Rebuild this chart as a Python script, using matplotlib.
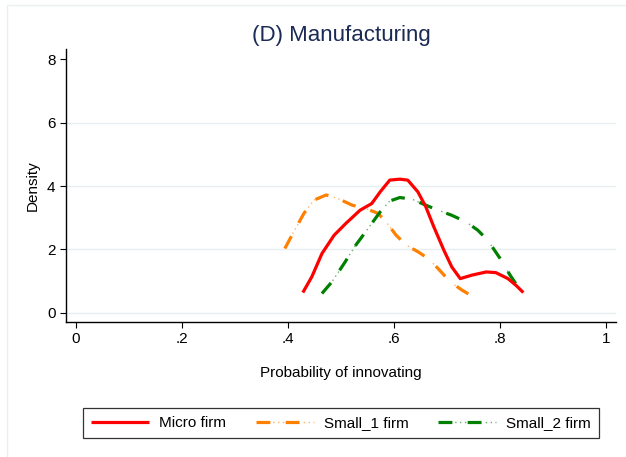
import numpy as np
import matplotlib
matplotlib.use("Agg")
import matplotlib.pyplot as plt
from matplotlib.patches import Rectangle

# ==================================================
# Data
# ==================================================
micro_x = [0.428, 0.445, 0.464, 0.487, 0.509, 0.536, 0.558, 0.574, 0.592, 0.611,
           0.626, 0.645, 0.660, 0.675, 0.694, 0.709, 0.725, 0.747, 0.774, 0.792,
           0.815, 0.830, 0.844]
micro_y = [0.64, 1.14, 1.87, 2.45, 2.82, 3.24, 3.45, 3.82, 4.19, 4.22,
           4.19, 3.82, 3.35, 2.72, 1.98, 1.45, 1.08, 1.19, 1.29, 1.27,
           1.08, 0.87, 0.64]

small1_x = [0.394, 0.411, 0.430, 0.449, 0.472, 0.494, 0.521, 0.547, 0.570, 0.585,
            0.604, 0.623, 0.645, 0.664, 0.683, 0.706, 0.728, 0.747]
small1_y = [2.03, 2.56, 3.14, 3.56, 3.72, 3.61, 3.40, 3.29, 3.14, 2.87,
            2.45, 2.14, 1.93, 1.72, 1.40, 0.98, 0.72, 0.53]

small2_x = [0.464, 0.483, 0.506, 0.528, 0.551, 0.574, 0.592, 0.611, 0.634, 0.657,
            0.683, 0.709, 0.736, 0.758, 0.777, 0.800, 0.819, 0.838]
small2_y = [0.61, 0.98, 1.56, 2.14, 2.66, 3.19, 3.53, 3.64, 3.59, 3.42,
            3.24, 3.08, 2.87, 2.61, 2.29, 1.72, 1.19, 0.72]

labels = ["Micro firm", "Small_1 firm", "Small_2 firm"]
xticks = [0, 0.2, 0.4, 0.6, 0.8, 1]
xticklabels = ["0", ".2", ".4", ".6", ".8", "1"]
yticks = [0, 2, 4, 6, 8]

# ==================================================
# Figure
# ==================================================
plt.rcParams["font.family"] = ["Liberation Sans", "DejaVu Sans"]
plt.rcParams["lines.scale_dashes"] = False

W, H = 626, 457
fig = plt.figure(figsize=(W / 100, H / 100), dpi=100)
fig.patches.append(Rectangle((7 / W, -0.1), 1.2, (H - 5) / H + 0.1,
                             transform=fig.transFigure, fill=False,
                             edgecolor="#eaf0f2", lw=1.0))

ax = fig.add_axes([66 / W, 1 - 322 / H, 550 / W, 273 / H])

red = "#ff0000"
orange = "#ff8000"
green = "#008000"
lw = 2.3

dash_ls = (0, (10, 11))
dot_ls = (10, (1, 2.5, 1, 2.5, 1, 14))

h_micro, = ax.plot(micro_x, micro_y, color=red, lw=lw, solid_capstyle="butt", zorder=4)

def dash_dots(x, y, color):
    l1, = ax.plot(x, y, color=color, lw=lw, linestyle=dash_ls,
                  dash_capstyle="butt", zorder=3)
    l2, = ax.plot(x, y, color=color, lw=1.0, alpha=0.6, linestyle=dot_ls,
                  dash_capstyle="butt", zorder=3)
    return (l1, l2)

h_small1 = dash_dots(small1_x, small1_y, orange)
h_small2 = dash_dots(small2_x, small2_y, green)

ax.set_xlim(-0.0189, 1.0189)
ax.set_ylim(-0.29, 8.33)
ax.set_xticks(xticks)
ax.set_xticklabels(xticklabels)
ax.set_yticks(yticks)
for yv in yticks[:-1]:
    ax.axhline(yv, color="#e6eef0", lw=1.0, zorder=1)

for s in ["top", "right"]:
    ax.spines[s].set_visible(False)
ax.spines["left"].set_linewidth(1.0)
ax.spines["bottom"].set_linewidth(1.0)
ax.tick_params(direction="out", length=4.5, width=0.8, labelsize=11, pad=3)

ax.set_title("(D) Manufacturing", fontsize=16, color="#1a2a55", pad=6)
ax.set_xlabel("Probability of innovating", fontsize=11, labelpad=14)
ax.set_ylabel("Density", fontsize=11, labelpad=5)

leg = fig.legend([h_micro, h_small1, h_small2], labels,
                 loc="center", ncol=3,
                 bbox_to_anchor=(81 / W, 1 - 438 / H, 520 / W, 30 / H),
                 fontsize=11, handlelength=3.8, handletextpad=0.65,
                 columnspacing=1.95, borderpad=0.5, fancybox=False, framealpha=1)
leg.get_frame().set_edgecolor("#333333")
leg.get_frame().set_linewidth(0.9)

fig.savefig("out.png", dpi=100)
